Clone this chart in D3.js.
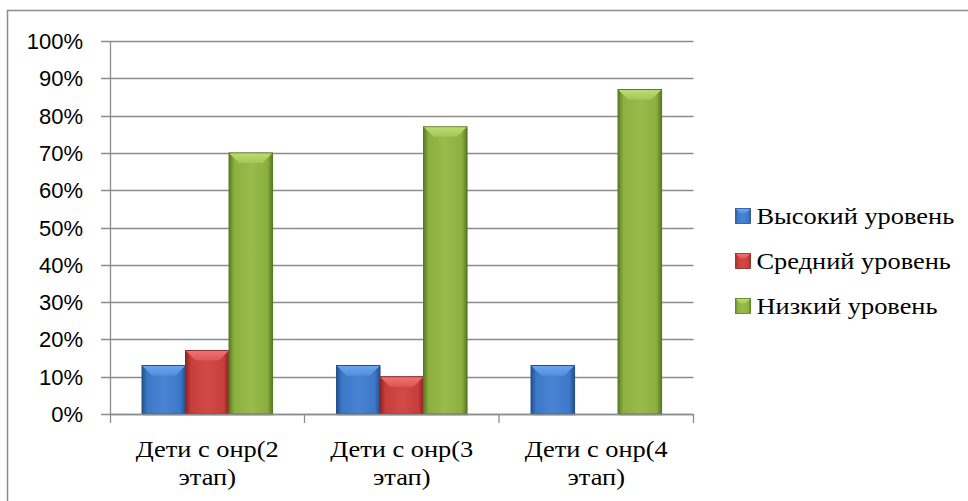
<!DOCTYPE html>
<html>
<head>
<meta charset="utf-8">
<script src="https://cdn.jsdelivr.net/npm/d3@7"></script>
<style>
  body { margin: 0; background: #fff; }
  svg { display: block; }
</style>
</head>
<body>
<svg id="chart" width="968" height="501"></svg>
<script>
// data
const categories = [["Дети с онр(2", "этап)"], ["Дети с онр(3", "этап)"], ["Дети с онр(4", "этап)"]]
const seriesNames = ["Высокий уровень", "Средний уровень", "Низкий уровень"]
const high = [0.13, 0.13, 0.13]
const mid = [0.17, 0.10, 0]
const low = [0.70, 0.77, 0.87]
const yTicks = [0, 0.1, 0.2, 0.3, 0.4, 0.5, 0.6, 0.7, 0.8, 0.9, 1]

const seriesValues = [high, mid, low]
const colors = [
  {base: "#3c78c8", light: "#6aa6ee", dark: "#26508c"},
  {base: "#c83c3a", light: "#ee7270", dark: "#8a2624"},
  {base: "#8cb040", light: "#bcdc70", dark: "#5a7a22"}
]
const SERIF = "'Liberation Serif', 'Times New Roman', serif"
const SANS = "'Liberation Sans', Arial, sans-serif"

const svg = d3.select("#chart")
const plotLeft = 110, plotRight = 693.5, plotTop = 41, plotBottom = 414
const stretch = 1.1  // the serif text in the picture is a bit wide

// outer frame
svg.append("rect")
  .attr("x", 7.5).attr("y", 10.5)
  .attr("width", 1200).attr("height", 800)
  .attr("fill", "none").attr("stroke", "#8c8c8c").attr("stroke-width", 1.5)

let y = d3.scaleLinear().domain([0, 1]).range([plotBottom, plotTop])
let x0 = d3.scaleBand().domain(d3.range(categories.length)).range([plotLeft, plotRight])
let gap = 32
let x1 = d3.scaleBand().domain(d3.range(seriesNames.length)).range([gap, x0.bandwidth() - gap])

let defs = svg.append("defs")
colors.forEach((c, i) => {
  let g = defs.append("linearGradient").attr("id", "grad_" + i)
    .attr("x1", 0).attr("x2", 1).attr("y1", 0).attr("y2", 0)
  g.append("stop").attr("offset", "0%").attr("stop-color", c.dark)
  g.append("stop").attr("offset", "12%").attr("stop-color", c.base)
  g.append("stop").attr("offset", "50%").attr("stop-color", d3.interpolateRgb(c.base, c.light)(0.25))
  g.append("stop").attr("offset", "88%").attr("stop-color", c.base)
  g.append("stop").attr("offset", "100%").attr("stop-color", c.dark)
  let gt = defs.append("linearGradient").attr("id", "top_" + i)
    .attr("x1", 0).attr("x2", 0).attr("y1", 0).attr("y2", 1)
  gt.append("stop").attr("offset", "0%").attr("stop-color", c.light)
  gt.append("stop").attr("offset", "100%").attr("stop-color", d3.interpolateRgb(c.light, c.base)(0.5))
})

// gridlines
svg.append("g").selectAll("line")
  .data(yTicks)
  .enter().append("line")
  .attr("x1", plotLeft - 9).attr("x2", plotRight)
  .attr("y1", d => Math.round(y(d)) + 0.5).attr("y2", d => Math.round(y(d)) + 0.5)
  .attr("stroke", "#8c8c8c").attr("stroke-width", 1.3)

// y labels
svg.append("g").selectAll("text")
  .data(yTicks)
  .enter().append("text")
  .style("font-family", SANS)
  .attr("x", plotLeft - 27)
  .attr("y", d => y(d) + 8)
  .attr("text-anchor", "end")
  .style("font-size", "22px")
  .attr("fill", "#000")
  .text(d => Math.round(d * 100) + "%")

// bars
let groups = svg.append("g").selectAll("g")
  .data(categories)
  .enter().append("g")
  .attr("transform", (d, i) => "translate(" + x0(i) + ",0)")

groups.each(function(cat, ci) {
  let g = d3.select(this)
  seriesValues.forEach((vals, si) => {
    let v = vals[ci]
    if (!v) return
    let bx = x1(si), bw = x1.bandwidth()
    let by = y(v), bh = plotBottom - y(v)
    // shadow
    g.append("rect")
      .attr("x", bx + 1).attr("y", by + 2).attr("width", bw).attr("height", bh)
      .attr("fill", "#000").attr("opacity", 0.12)
    g.append("rect")
      .attr("x", bx).attr("y", by).attr("width", bw).attr("height", bh)
      .attr("fill", "url(#grad_" + si + ")")
      .attr("stroke", colors[si].dark).attr("stroke-width", 1)
    let bev = Math.min(10, bh / 2)
    g.append("polygon")
      .attr("points", [[bx + 0.5, by + 0.5], [bx + bw - 0.5, by + 0.5], [bx + bw - bev, by + bev], [bx + bev, by + bev]].join(" "))
      .attr("fill", "url(#top_" + si + ")")
  })
})

// x axis
svg.append("line")
  .attr("x1", plotLeft).attr("x2", plotRight)
  .attr("y1", plotBottom + 0.5).attr("y2", plotBottom + 0.5)
  .attr("stroke", "#8c8c8c").attr("stroke-width", 1.3)
svg.append("line")
  .attr("x1", plotLeft + 0.5).attr("x2", plotLeft + 0.5)
  .attr("y1", plotTop).attr("y2", plotBottom + 9)
  .attr("stroke", "#8c8c8c").attr("stroke-width", 1.3)
svg.append("g").selectAll("line")
  .data(d3.range(1, categories.length + 1))
  .enter().append("line")
  .attr("x1", d => x0(0) + d * x0.bandwidth()).attr("x2", d => x0(0) + d * x0.bandwidth())
  .attr("y1", plotBottom).attr("y2", plotBottom + 9)
  .attr("stroke", "#8c8c8c").attr("stroke-width", 1.3)

// category labels
let catText = svg.append("g").selectAll("text")
  .data(categories)
  .enter().append("text")
  .style("font-family", SERIF)
  .style("font-size", "24px")
  .attr("text-anchor", "middle")
  .attr("fill", "#000")
  .attr("transform", (d, i) => "translate(" + (x0(i) + x0.bandwidth() / 2) + ",0) scale(" + stretch + ",1)")
catText.each(function(lines, i) {
  let t = d3.select(this)
  lines.forEach((l, k) => {
    t.append("tspan")
      .attr("x", 0)
      .attr("y", 457 + k * 28)
      .text(l)
  })
})

// legend
let legend = svg.append("g").selectAll("g")
  .data(seriesNames)
  .enter().append("g")
  .attr("transform", (d, i) => "translate(735.5," + (208.5 + i * 45) + ")")
legend.append("rect")
  .attr("width", 15).attr("height", 15)
  .attr("fill", (d, i) => "url(#grad_" + i + ")")
  .attr("stroke", (d, i) => colors[i].dark).attr("stroke-width", 0.8)
legend.append("polygon")
  .attr("points", "0.5,0.5 14.5,0.5 10,5 5,5")
  .attr("fill", (d, i) => "url(#top_" + i + ")")
legend.append("text")
  .style("font-family", SERIF)
  .style("font-size", "24px")
  .attr("transform", "translate(21,15.5) scale(" + stretch + ",1)")
  .attr("fill", "#000")
  .text(d => d)
</script>
</body>
</html>
